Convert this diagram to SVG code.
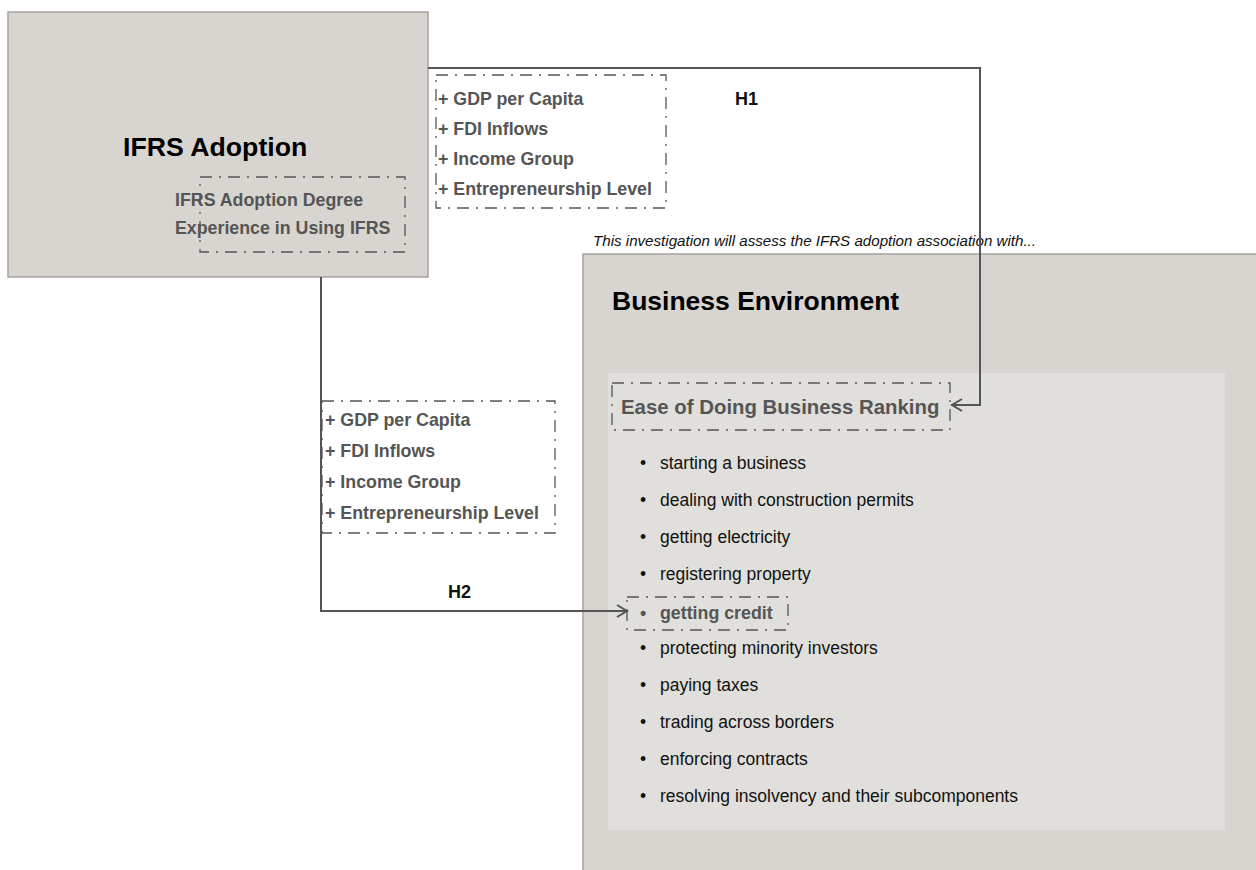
<svg xmlns="http://www.w3.org/2000/svg" width="1256" height="870" viewBox="0 0 1256 870">
<style>
.box{fill:#d8d5d0;stroke:#a6a39e;stroke-width:1.5}
.inner{fill:#e0dfdb;stroke:none}
.dd{fill:none;stroke:#555;stroke-width:1.3;stroke-dasharray:12 7 2 7}
.title{font-family:"Liberation Sans",Arial,sans-serif;font-weight:bold;fill:#000}
.var{font-family:"Liberation Sans",Arial,sans-serif;font-weight:bold;font-size:17.8px;fill:#555}
.item{font-family:"Liberation Sans",Arial,sans-serif;font-size:17.5px;fill:#111}
.conn{fill:none;stroke:#555;stroke-width:2}
.lbl{font-family:"Liberation Sans",Arial,sans-serif;font-weight:bold;font-size:18px;fill:#111}
</style>
<defs>
<marker id="arr" markerWidth="14" markerHeight="14" refX="12" refY="7" orient="auto" markerUnits="userSpaceOnUse">
<polyline points="2,1 12,7 2,13" fill="none" stroke="#555" stroke-width="2"/>
</marker>
</defs>
<rect width="1256" height="870" fill="#fff"/>
<g id="ifrs-adoption">
<rect class="box" x="8" y="12" width="420" height="265"/>
<text class="title" x="123" y="156" font-size="26.7">IFRS Adoption</text>
<rect class="dd" x="200" y="177" width="205" height="75"/>
<text class="var" x="175" y="206">IFRS Adoption Degree</text>
<text class="var" x="175" y="234">Experience in Using IFRS</text>
</g>
<g id="business-environment">
<rect class="box" x="583" y="254" width="680" height="620"/>
<text class="title" x="612" y="310" font-size="26.5">Business Environment</text>
<rect class="inner" x="608" y="373" width="617" height="457"/>
<rect class="dd" x="612" y="383" width="338" height="47"/>
<text class="var" x="621" y="414" style="font-size:20.4px">Ease of Doing Business Ranking</text>
<g class="item">
<text x="640" y="469">•</text><text x="660" y="469">starting a business</text>
<text x="640" y="506">•</text><text x="660" y="506">dealing with construction permits</text>
<text x="640" y="543">•</text><text x="660" y="543">getting electricity</text>
<text x="640" y="580">•</text><text x="660" y="580">registering property</text>
<text x="640" y="654">•</text><text x="660" y="654">protecting minority investors</text>
<text x="640" y="691">•</text><text x="660" y="691">paying taxes</text>
<text x="640" y="728">•</text><text x="660" y="728">trading across borders</text>
<text x="640" y="765">•</text><text x="660" y="765">enforcing contracts</text>
<text x="640" y="802">•</text><text x="660" y="802">resolving insolvency and their subcomponents</text>
</g>
<rect class="dd" x="627" y="597" width="161" height="33"/>
<text class="var" x="640" y="619">•</text>
<text class="var" x="660" y="619">getting credit</text>
</g>
<g id="moderators-h1">
<rect class="dd" x="436" y="75" width="230" height="133"/>
<text class="var" x="438" y="105">+ GDP per Capita</text>
<text class="var" x="438" y="135">+ FDI Inflows</text>
<text class="var" x="438" y="165">+ Income Group</text>
<text class="var" x="438" y="195">+ Entrepreneurship Level</text>
</g>
<g id="moderators-h2">
<rect class="dd" x="322" y="401" width="233" height="132"/>
<text class="var" x="325" y="426">+ GDP per Capita</text>
<text class="var" x="325" y="457">+ FDI Inflows</text>
<text class="var" x="325" y="488">+ Income Group</text>
<text class="var" x="325" y="519">+ Entrepreneurship Level</text>
</g>
<g id="note">
<text x="593" y="246" font-family="Liberation Sans, Arial, sans-serif" font-style="italic" font-size="14.5" fill="#111" textLength="443" lengthAdjust="spacingAndGlyphs">This investigation will assess the IFRS adoption association with...</text>
</g>
<g id="connectors">
<polyline class="conn" points="428,68 980,68 980,405 952,405" marker-end="url(#arr)"/>
<polyline class="conn" points="321,277 321,611 627,611" marker-end="url(#arr)"/>
<text class="lbl" x="735" y="105">H1</text>
<text class="lbl" x="448" y="598">H2</text>
</g>
</svg>
